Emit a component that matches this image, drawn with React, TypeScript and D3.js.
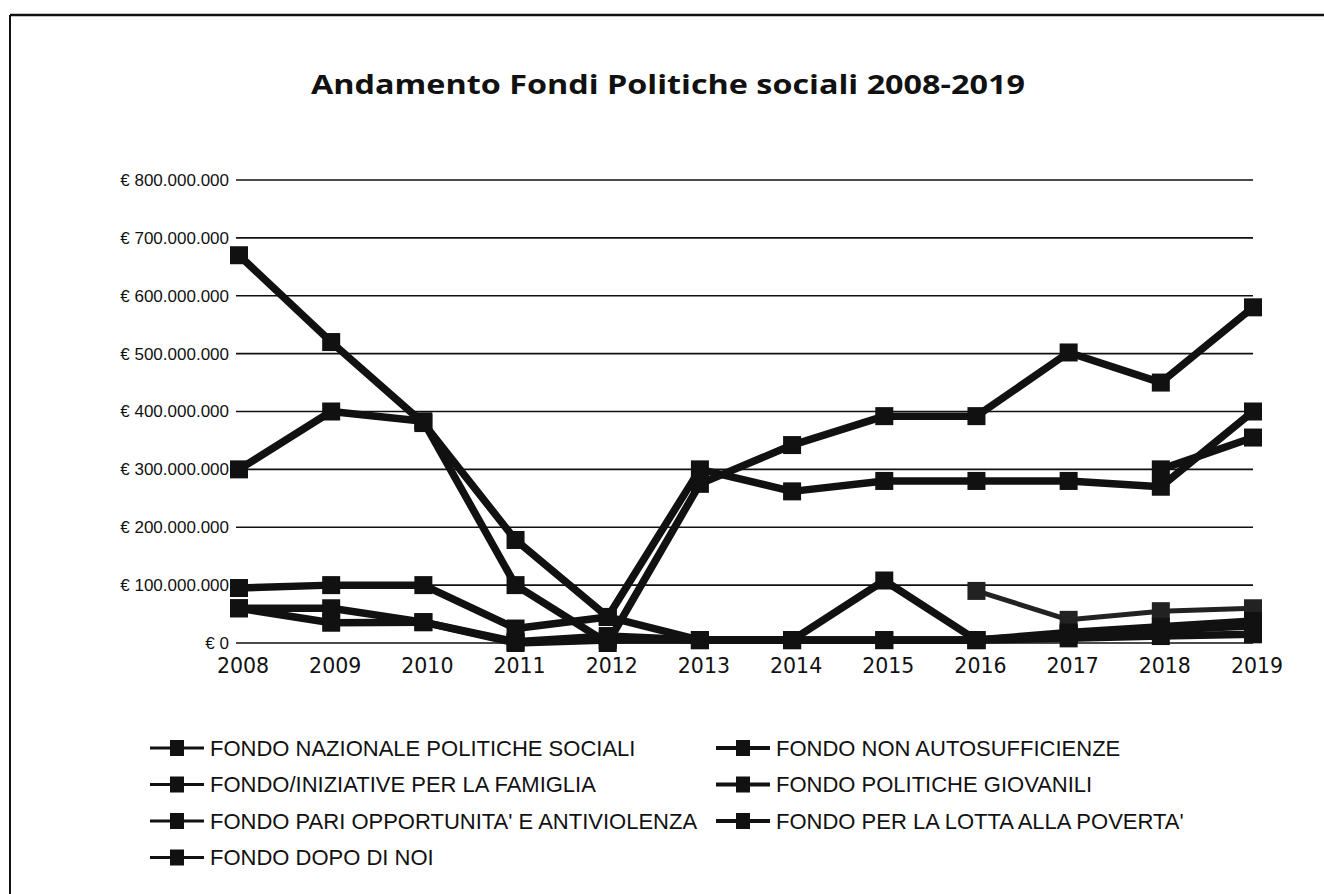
import React from 'react';
import * as d3 from 'd3';

// ---------- DATA (values in millions of euro) ----------
const years = ['2008', '2009', '2010', '2011', '2012', '2013', '2014', '2015', '2016', '2017', '2018', '2019'];
const yTickValues = [0, 100, 200, 300, 400, 500, 600, 700, 800];

const fondoNazionalePoliticheSociali = [670, 520, 380, 178, 45, 300, 262, 280, 280, 280, 270, 400];
const fondoNonAutosufficienze = [300, 400, 383, 100, 0, 275, 342, 392, 392, 502, 450, 580];
const fondoFamiglia = [95, 100, 100, 25, 45, 5, 5, 5, 5, 15, 22, 30];
const fondoPoliticheGiovanili = [60, 60, 36, 0, 5, 5, 5, 5, 5, 8, 12, 15];
const fondoPariOpportunita = [60, 35, 36, 2, 12, 5, 5, 108, 5, 18, 28, 38];
const fondoLottaPoverta = [null, null, null, null, null, null, null, null, null, null, 300, 355];
const fondoDopoDiNoi = [null, null, null, null, null, null, null, null, 90, 40, 55, 60];

const seriesNames = [
  'FONDO NAZIONALE POLITICHE SOCIALI',
  'FONDO NON AUTOSUFFICIENZE',
  'FONDO/INIZIATIVE PER LA FAMIGLIA',
  'FONDO POLITICHE GIOVANILI',
  "FONDO PARI OPPORTUNITA' E ANTIVIOLENZA",
  "FONDO PER LA LOTTA ALLA POVERTA'",
  'FONDO DOPO DI NOI',
];
const seriesValues = [
  fondoNazionalePoliticheSociali,
  fondoNonAutosufficienze,
  fondoFamiglia,
  fondoPoliticheGiovanili,
  fondoPariOpportunita,
  fondoLottaPoverta,
  fondoDopoDiNoi,
];

const title = 'Andamento Fondi Politiche sociali 2008-2019';

// ---------- CHART ----------
const W = 1324;
const H = 894;

const itLocale = d3.formatLocale({ decimal: ',', thousands: '.', grouping: [3], currency: ['€ ', ''] });
const fmt = itLocale.format('$,.0f');

export default function App() {
  const x = d3.scalePoint<string>().domain(years).range([239, 1253]);
  const y = d3.scaleLinear().domain([0, 800]).range([643, 180]);

  const line = d3
    .line<number | null>()
    .defined((d) => d !== null)
    .x((_, i) => x(years[i]) as number)
    .y((d) => y(d as number));

  const drawOrder = [6, 4, 3, 2, 5, 1, 0];

  const legendCols = [150, 716];
  const legendRow0 = 748;
  const legendRowStep = 36.5;

  return (
    <svg width={W} height={H} style={{ position: 'absolute', left: 0, top: 0, background: '#fff' }}>
      <rect x={0} y={0} width={W} height={H} fill="#fff" />
      {/* frame */}
      <line x1={10} y1={15} x2={W} y2={15} stroke="#111" strokeWidth={2.5} />
      <line x1={10} y1={15} x2={10} y2={H} stroke="#111" strokeWidth={2} />

      {/* title */}
      <text
        x={668}
        y={94}
        textAnchor="middle"
        fontFamily="'Open Sans', 'DejaVu Sans', sans-serif"
        fontWeight={700}
        fontSize={27}
        fill="#111"
        textLength={714}
        lengthAdjust="spacingAndGlyphs"
      >
        {title}
      </text>

      {/* gridlines + y labels */}
      {yTickValues.map((t) => (
        <g key={t}>
          <line x1={236} x2={1253} y1={y(t)} y2={y(t)} stroke="#111" strokeWidth={1.6} />
          <text
            x={229}
            y={y(t)}
            dy="0.35em"
            textAnchor="end"
            fontFamily="'Liberation Sans', Arial, sans-serif"
            fontSize={17}
            fill="#111"
          >
            {fmt(t * 1e6)}
          </text>
        </g>
      ))}

      {/* x labels */}
      {years.map((yr) => (
        <text
          key={yr}
          x={(x(yr) as number) + 4}
          y={673}
          textAnchor="middle"
          fontFamily="'DejaVu Sans', sans-serif"
          fontSize={20.5}
          fill="#111"
        >
          {yr}
        </text>
      ))}

      {/* series */}
      {drawOrder.map((si) => {
        const vals = seriesValues[si];
        const isLight = si === 6;
        return (
          <g key={si}>
            <path
              d={line(vals) || ''}
              fill="none"
              stroke={isLight ? '#222' : '#111'}
              strokeWidth={isLight ? 5 : 7.5}
              strokeLinejoin="round"
            />
            {vals.map((v, i) =>
              v === null ? null : (
                <rect
                  key={i}
                  x={(x(years[i]) as number) - 9}
                  y={y(v) - 9}
                  width={18}
                  height={18}
                  fill={isLight ? '#222' : '#111'}
                />
              )
            )}
          </g>
        );
      })}

      {/* legend */}
      {seriesNames.map((name, i) => {
        const col = i % 2;
        const row = Math.floor(i / 2);
        const lx = legendCols[col];
        const ly = legendRow0 + row * legendRowStep;
        return (
          <g key={name}>
            <line x1={lx} x2={lx + 54} y1={ly} y2={ly} stroke="#111" strokeWidth={col === 1 ? 4 : 3} />
            <rect x={lx + 20} y={ly - 8} width={14} height={16} fill="#111" />
            <text
              x={lx + 60}
              y={ly}
              dy="0.36em"
              fontFamily="'Liberation Sans', Arial, sans-serif"
              fontSize={22}
              fill="#111"
            >
              {name}
            </text>
          </g>
        );
      })}
    </svg>
  );
}
